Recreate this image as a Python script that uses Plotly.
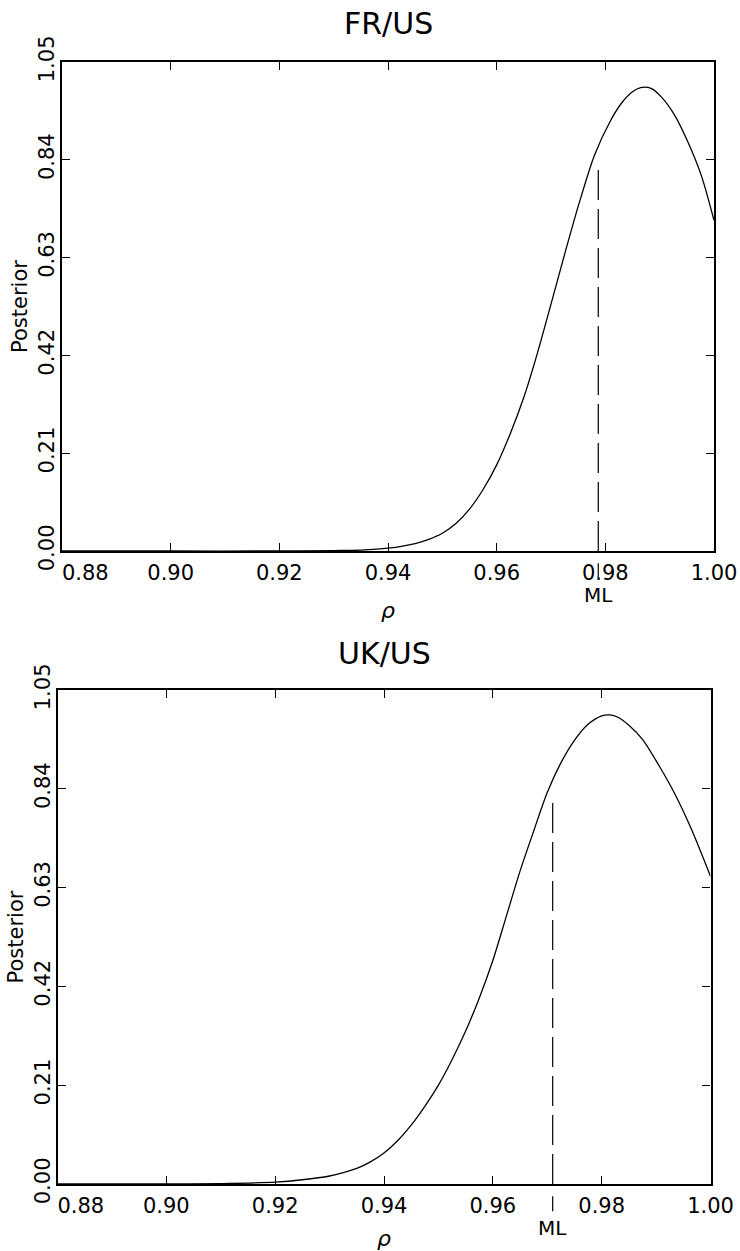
import plotly.graph_objects as go

# ---------------- data ----------------
fr_rho = [0.880, 0.900, 0.920, 0.930, 0.935, 0.940, 0.945, 0.9475, 0.950, 0.9525,
          0.955, 0.9575, 0.960, 0.9625, 0.965, 0.9675, 0.970, 0.9725, 0.975,
          0.978, 0.981, 0.983, 0.985, 0.9865, 0.9885, 0.9903, 0.9928, 0.9952,
          0.9977, 1.000]
fr_post = [0.0, 0.0, 0.0, 0.001, 0.002, 0.006, 0.016, 0.025, 0.038, 0.059,
           0.090, 0.132, 0.185, 0.252, 0.330, 0.425, 0.530, 0.637, 0.740,
           0.850, 0.925, 0.962, 0.986, 0.995, 0.993, 0.975, 0.935, 0.878,
           0.805, 0.710]
fr_ml = 0.9787
fr_ml_top = 0.83

uk_rho = [0.880, 0.900, 0.910, 0.920, 0.925, 0.930, 0.9325, 0.935, 0.9375, 0.940,
          0.9425, 0.945, 0.9475, 0.950, 0.9525, 0.955, 0.9575, 0.960, 0.9625,
          0.965, 0.9675, 0.970, 0.9725, 0.975, 0.9775, 0.980, 0.9815, 0.983,
          0.985, 0.9875, 0.9905, 0.9935, 0.9965, 1.000]
uk_post = [0.0, 0.0, 0.001, 0.004, 0.009, 0.017, 0.024, 0.033, 0.047, 0.066,
           0.092, 0.125, 0.165, 0.210, 0.264, 0.325, 0.395, 0.475, 0.570,
           0.665, 0.750, 0.832, 0.895, 0.943, 0.977, 0.995, 0.997, 0.992,
           0.975, 0.945, 0.890, 0.828, 0.754, 0.654]
uk_ml = 0.971
uk_ml_top = 0.827

x_ticks = [0.88, 0.90, 0.92, 0.94, 0.96, 0.98, 1.00]
x_tick_labels = ["0.88", "0.90", "0.92", "0.94", "0.96", "0.98", "1.00"]
y_ticks = [0.0, 0.21, 0.42, 0.63, 0.84, 1.05]
y_tick_labels = ["0.00", "0.21", "0.42", "0.63", "0.84", "1.05"]

panel_titles = ["FR/US", "UK/US"]
x_title = "ρ"
y_title = "Posterior"
ml_label = "ML"

# ---------------- layout helpers ----------------
W, H = 740, 1251
FONT = "DejaVu Sans"


def px_x(p):
    return p / W


def px_y(p):
    return 1 - p / H


# first tick label is pushed right of the corner as in the original
x_text = [("\u00a0" * 7 + t) if i == 0 else t for i, t in enumerate(x_tick_labels)]

fig = go.Figure()

panels = [
    dict(rho=fr_rho, post=fr_post, ml=fr_ml, ml_top=fr_ml_top,
         xdom=[px_x(62), px_x(714)], ydom=[px_y(551), px_y(62)], title_y=24),
    dict(rho=uk_rho, post=uk_post, ml=uk_ml, ml_top=uk_ml_top,
         xdom=[px_x(57.5), px_x(710.5)], ydom=[px_y(1184), px_y(690)], title_y=653),
]

annotations = []
shapes = []
for i, p in enumerate(panels):
    n = "" if i == 0 else str(i + 1)
    xa, ya = "x" + n, "y" + n
    fig.add_trace(go.Scatter(
        x=p["rho"], y=p["post"], mode="lines",
        line=dict(color="black", width=1.3, shape="spline", smoothing=0.8),
        xaxis=xa, yaxis=ya, showlegend=False, hoverinfo="skip"))

    axis_common = dict(
        showline=True, linecolor="black", linewidth=2.3, mirror="ticks",
        ticks="inside", ticklen=8, tickwidth=1.4, tickcolor="black",
        showgrid=False, zeroline=False,
        tickfont=dict(family=FONT, size=21, color="black"),
        automargin=False,
    )
    fig.update_layout(**{
        "xaxis" + n: dict(
            domain=p["xdom"], range=[0.88, 1.0], anchor=ya,
            tickmode="array", tickvals=x_ticks, ticktext=x_text,
            ticklabelstandoff=2,
            title=dict(text="<i>" + x_title + "</i>", standoff=18,
                       font=dict(family=FONT, size=22, color="black")),
            **axis_common),
        "yaxis" + n: dict(
            domain=p["ydom"], range=[0.0, 1.05], anchor=xa,
            tickmode="array", tickvals=y_ticks, ticktext=y_tick_labels,
            tickangle=-90, ticklabelstandoff=-3,
            title=dict(text=y_title, standoff=2,
                       font=dict(family=FONT, size=21, color="black")),
            **axis_common),
    })

    # ML dashed marker line
    shapes.append(dict(type="line", xref=xa, yref=ya,
                       x0=p["ml"], x1=p["ml"], y0=0, y1=p["ml_top"],
                       line=dict(color="black", width=1.2, dash="30px,9px")))
    shapes.append(dict(type="line", xref=xa, yref=ya + " domain",
                       x0=p["ml"], x1=p["ml"], y0=-0.025, y1=-0.055,
                       line=dict(color="black", width=1.2)))
    annotations.append(dict(
        text=ml_label, xref=xa, yref=ya + " domain", x=p["ml"], y=-0.09,
        xanchor="center", yanchor="middle", showarrow=False,
        font=dict(family=FONT, size=20, color="black")))
    annotations.append(dict(
        text=panel_titles[i], xref=xa + " domain", yref="paper",
        x=0.5, y=px_y(p["title_y"]), xanchor="center", yanchor="middle",
        showarrow=False, font=dict(family=FONT, size=30, color="black")))

fig.update_layout(
    width=W, height=H,
    margin=dict(l=0, r=0, t=0, b=0),
    paper_bgcolor="white", plot_bgcolor="white",
    font=dict(family=FONT, color="black"),
    shapes=shapes, annotations=annotations,
)

fig.write_html("out.html")
